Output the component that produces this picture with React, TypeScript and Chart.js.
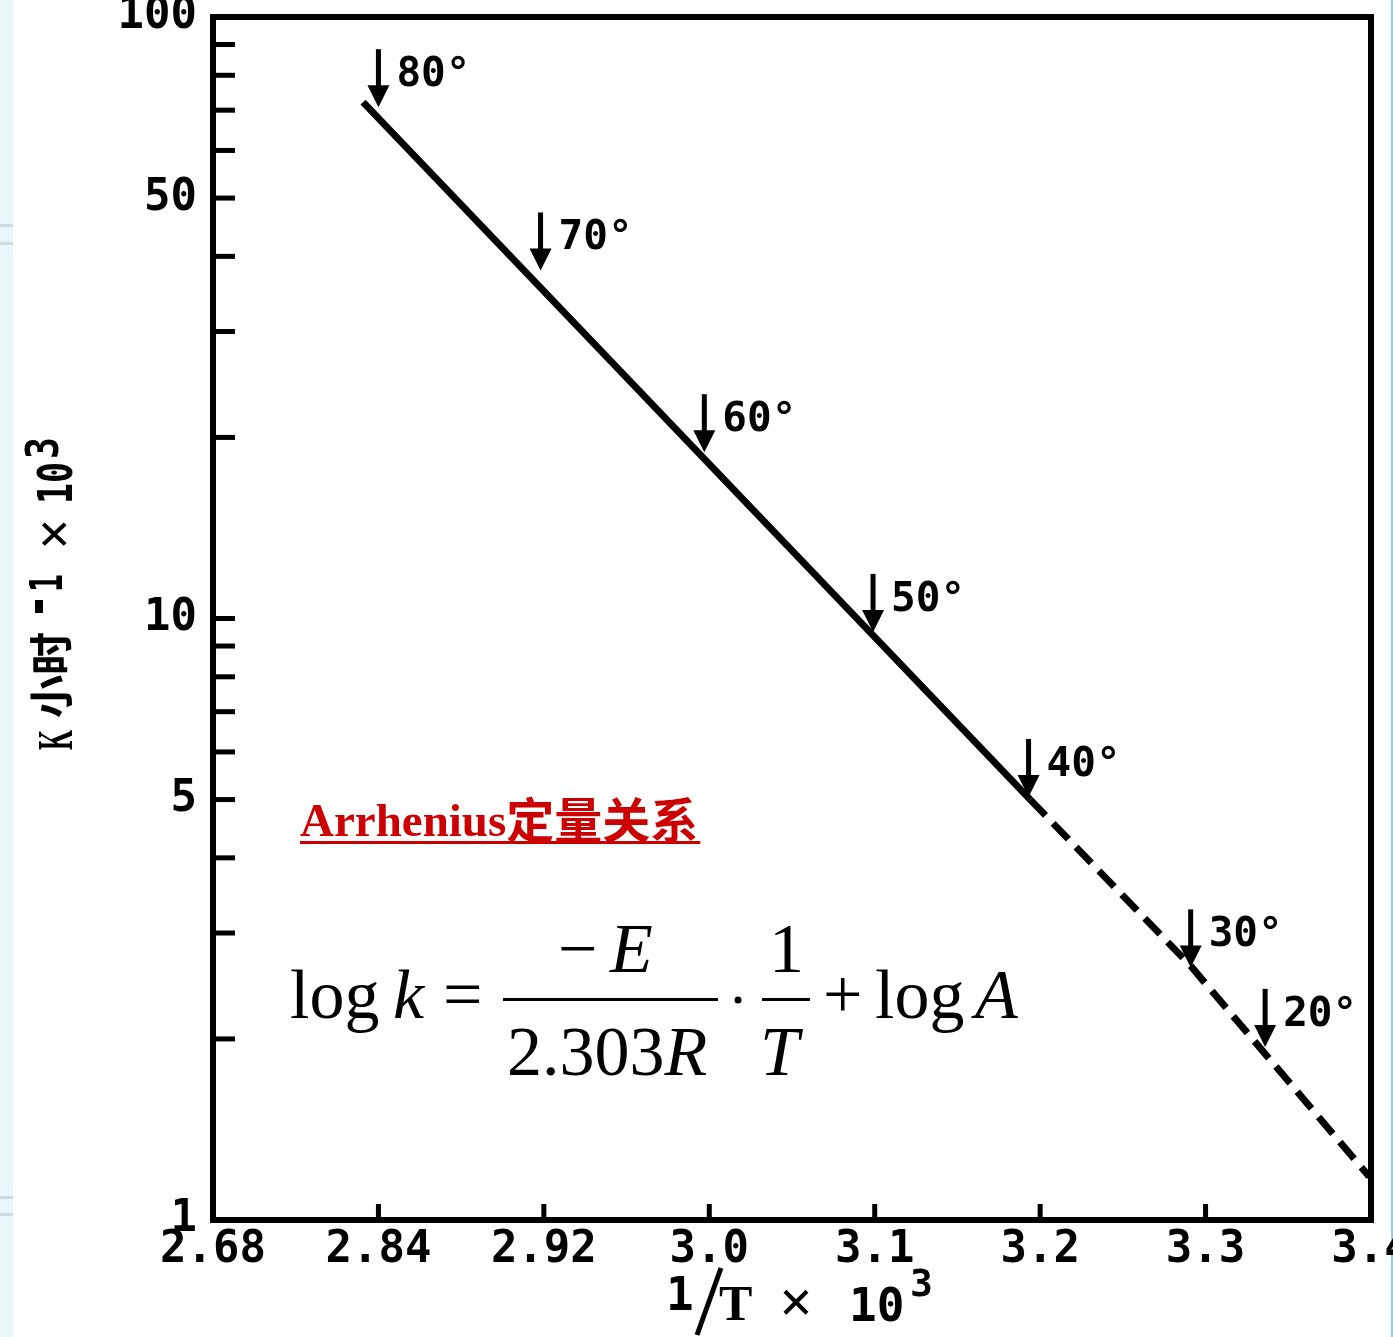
import React, { useEffect, useRef } from 'react';
import { Chart, registerables } from 'chart.js';

Chart.register(...registerables);

// ---- data ----
const xTickPositions = [0, 1, 2, 3, 4, 5, 6, 7];
const xTickLabels = ['2.68', '2.84', '2.92', '3.0', '3.1', '3.2', '3.3', '3.4'];
const yLabelValues = [1, 5, 10, 50, 100];
const yMinorValues = [2, 3, 4, 5, 6, 7, 8, 9, 10, 20, 30, 40, 50, 60, 70, 80, 90];

const solidX = [0.907, 4.94];
const solidY = [72.2, 5.0];
const dashedX = [4.94, 5.907, 6.99];
const dashedY = [5.0, 2.65, 1.18];

const arrowLabels = ['80°', '70°', '60°', '50°', '40°', '30°', '20°'];
const arrowX = [1.0, 1.98, 2.97, 3.99, 4.93, 5.91, 6.36];
const arrowY = [70.8, 37.9, 18.9, 9.5, 5.05, 2.63, 1.94];

const W = 1393;
const H = 1337;
const MONO = '"DejaVu Sans Mono", "Liberation Mono", monospace';
const SERIF = '"Liberation Serif", "Times New Roman", serif';

const decorPlugin = {
  id: 'decor',
  beforeDraw(chart: any) {
    const ctx = chart.ctx;
    ctx.save();
    ctx.fillStyle = '#ffffff';
    ctx.fillRect(0, 0, W, H);
    ctx.fillStyle = '#e9f7fa';
    ctx.fillRect(0, 0, 13, H);
    ctx.fillStyle = '#c5dde3';
    ctx.fillRect(0, 224, 13, 3);
    ctx.fillRect(0, 242, 13, 3);
    ctx.fillRect(0, 1196, 13, 3);
    ctx.fillRect(0, 1213, 13, 3);
    ctx.fillStyle = '#8fd3e2';
    ctx.fillRect(W - 2, 0, 2, H);
    ctx.restore();
  },
  afterDatasetsDraw(chart: any) {
    const ctx = chart.ctx;
    const { left, right, top, bottom } = chart.chartArea;
    const xs = chart.scales.x;
    const ys = chart.scales.y;
    ctx.save();

    // frame
    ctx.strokeStyle = '#000';
    ctx.lineWidth = 6;
    ctx.strokeRect(left, top, right - left, bottom - top);

    // inner y ticks
    ctx.fillStyle = '#000';
    yMinorValues.forEach((v) => {
      const py = ys.getPixelForValue(v);
      ctx.fillRect(left, py - 2.5, 22, 5);
    });
    // inner x ticks
    xTickPositions.slice(1, -1).forEach((v) => {
      const px = xs.getPixelForValue(v);
      ctx.fillRect(px - 2.5, bottom - 16, 5, 16);
    });

    // arrows + labels
    arrowLabels.forEach((lab, i) => {
      const px = xs.getPixelForValue(arrowX[i]);
      const py = ys.getPixelForValue(arrowY[i]);
      ctx.fillStyle = '#000';
      ctx.fillRect(px - 2.5, py - 58, 5, 40);
      ctx.beginPath();
      ctx.moveTo(px - 11, py - 22);
      ctx.lineTo(px + 11, py - 22);
      ctx.lineTo(px, py);
      ctx.closePath();
      ctx.fill();
      ctx.font = 'bold 41px ' + MONO;
      ctx.textBaseline = 'middle';
      ctx.textAlign = 'left';
      ctx.fillText(lab, px + 18, py - 32);
    });

    // red title
    ctx.textBaseline = 'alphabetic';
    ctx.textAlign = 'left';
    ctx.fillStyle = '#cc0000';
    ctx.font = 'bold 47px "Liberation Serif", "Noto Sans CJK SC", serif';
    const t1 = 'Arrhenius';
    ctx.fillText(t1, 300, 836);
    const w1 = ctx.measureText(t1).width;
    ctx.font = 'bold 48px "Noto Sans CJK SC", sans-serif';
    const t2 = '定量关系';
    ctx.fillText(t2, 300 + w1, 838);
    const w2 = ctx.measureText(t2).width;
    ctx.fillRect(300, 841, w1 + w2 + 2, 3);

    // formula
    ctx.fillStyle = '#000';
    const up = 'normal 70px ' + SERIF;
    const it = 'italic 70px ' + SERIF;
    const put = (t: string, x: number, y: number, f: string) => {
      ctx.font = f;
      ctx.fillText(t, x, y);
      return x + ctx.measureText(t).width;
    };
    put('log', 290, 1018, up);
    put('k', 393, 1018, it);
    put('=', 443, 1018, up);
    ctx.fillRect(503, 998, 215, 3);
    put('\u2212', 558, 972, up);
    put('E', 610, 972, it);
    const nx = put('2.303', 507, 1075, up);
    put('R', nx, 1075, it);
    ctx.beginPath();
    ctx.arc(738, 1000, 3.5, 0, Math.PI * 2);
    ctx.fill();
    put('1', 769, 972, up);
    ctx.fillRect(762, 998, 48, 3);
    put('T', 760, 1075, it);
    put('+', 823, 1018, up);
    put('log', 875, 1018, up);
    put('A', 975, 1018, it);

    // x-axis title: 1/T x 10^3
    ctx.font = 'bold 46px ' + MONO;
    ctx.fillText('1', 666, 1310);
    ctx.lineWidth = 5;
    ctx.beginPath();
    ctx.moveTo(697, 1335);
    ctx.lineTo(721, 1268);
    ctx.stroke();
    ctx.font = 'bold 50px ' + SERIF;
    ctx.fillText('T', 719, 1320);
    ctx.font = 'bold 60px ' + SERIF;
    ctx.fillText('\u00d7', 779, 1322);
    ctx.font = 'bold 46px ' + MONO;
    ctx.fillText('10', 849, 1321);
    ctx.font = 'bold 38px ' + MONO;
    ctx.fillText('3', 910, 1296);

    // y-axis title (rotated)
    ctx.translate(72, 750);
    ctx.rotate(-Math.PI / 2);
    ctx.font = 'bold 50px ' + SERIF;
    ctx.fillText('K', 0, 0, 20);
    ctx.font = 'bold 44px "Noto Sans CJK SC", sans-serif';
    ctx.fillText('小时', 32, -4, 86);
    ctx.fillRect(137, -37, 13, 8);
    ctx.font = 'bold 44px ' + MONO;
    ctx.fillText('1', 158, -10, 18);
    ctx.font = 'bold 60px ' + SERIF;
    ctx.fillText('\u00d7', 200, 2, 32);
    ctx.font = 'bold 48px ' + MONO;
    ctx.fillText('10', 246, 0, 42);
    ctx.font = 'bold 44px ' + MONO;
    ctx.fillText('3', 291, -14, 22);

    ctx.restore();
  },
};

export default function App() {
  const ref = useRef<HTMLCanvasElement>(null);

  useEffect(() => {
    const canvas = ref.current;
    if (!canvas) return;
    const chart = new Chart(canvas, {
      type: 'line',
      data: {
        datasets: [
          {
            data: solidX.map((x, i) => ({ x, y: solidY[i] })),
            borderColor: '#000',
            borderWidth: 7,
            pointRadius: 0,
            fill: false,
            tension: 0,
            borderCapStyle: 'butt',
            borderJoinStyle: 'round',
          },
          {
            data: dashedX.map((x, i) => ({ x, y: dashedY[i] })),
            borderColor: '#000',
            borderWidth: 7,
            borderDash: [22, 11],
            pointRadius: 0,
            fill: false,
            tension: 0,
            borderCapStyle: 'butt',
          },
        ],
      },
      options: {
        animation: false,
        responsive: false,
        maintainAspectRatio: false,
        devicePixelRatio: 1,
        layout: { padding: { top: 17, right: 22, left: 0, bottom: 0 } },
        plugins: { legend: { display: false }, tooltip: { enabled: false }, title: { display: false } },
        scales: {
          x: {
            type: 'linear',
            min: 0,
            max: 7,
            grid: { display: false, drawTicks: false },
            border: { display: false },
            afterBuildTicks: (s: any) => {
              s.ticks = xTickPositions.map((v) => ({ value: v }));
            },
            afterFit: (s: any) => {
              s.height = 117;
              s.paddingLeft = 0;
              s.paddingRight = 0;
            },
            ticks: {
              autoSkip: false,
              maxRotation: 0,
              minRotation: 0,
              padding: 4,
              color: '#000',
              font: { family: MONO, size: 44, weight: 'bold' },
              callback: (v: any) => xTickLabels[xTickPositions.indexOf(Number(v))] ?? '',
            },
          },
          y: {
            type: 'logarithmic',
            min: 1,
            max: 100,
            grid: { display: false, drawTicks: false },
            border: { display: false },
            afterBuildTicks: (s: any) => {
              s.ticks = yLabelValues.map((v) => ({ value: v }));
            },
            afterFit: (s: any) => {
              s.width = 213;
              s.paddingTop = 0;
              s.paddingBottom = 0;
            },
            ticks: {
              autoSkip: false,
              padding: 16,
              color: '#000',
              font: { family: MONO, size: 44, weight: 'bold' },
              callback: (v: any) => String(v),
            },
          },
        },
      } as any,
      plugins: [decorPlugin],
    });
    return () => chart.destroy();
  }, []);

  return (
    <canvas
      ref={ref}
      width={W}
      height={H}
      style={{ position: 'absolute', left: 0, top: 0, display: 'block' }}
    />
  );
}
